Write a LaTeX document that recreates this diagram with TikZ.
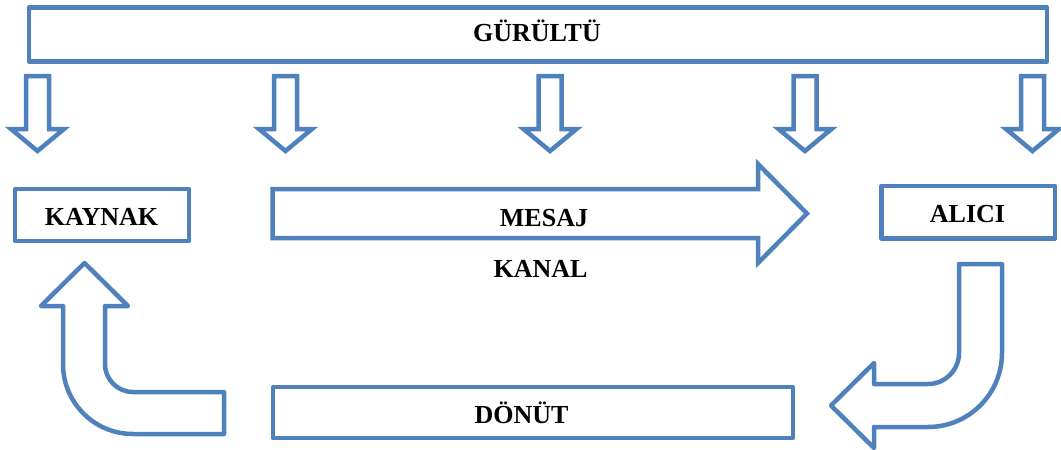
\documentclass[tikz,border=0pt]{standalone}
\usepackage{fontspec}
\setmainfont{Liberation Serif}
\definecolor{boxblue}{RGB}{79,129,189}
\tikzset{
  frame/.style={draw=boxblue, line width=4.5pt, line join=round, fill=white},
  blockarrow/.style={draw=boxblue, line width=4.5pt, line join=miter, miter limit=10, fill=white},
  boxrect/.style={frame, rectangle, inner sep=0pt, outer sep=0pt},
  label/.style={font=\fontsize{26}{30}\selectfont\bfseries, text=black, inner sep=0pt, anchor=base},
}
\begin{document}
\begin{tikzpicture}[x=1pt, y=-1pt]
\useasboundingbox (0,0) rectangle (1061,450);

% boxes
\node[boxrect, minimum width=1018pt, minimum height=54pt] (noise) at (538,34.5) {};
\node[boxrect, minimum width=174pt, minimum height=52pt] (source) at (102,215) {};
\node[boxrect, minimum width=173.5pt, minimum height=52.5pt] (receiver) at (968.25,212.25) {};
\node[boxrect, minimum width=520pt, minimum height=51pt] (feedback) at (533,412.5) {};

% downward arrows from the noise bar
\foreach \cx in {37.5,285.5,550,805,1032.5}{
  \draw[blockarrow] (\cx-11.5,76) -- (\cx+11.5,76) -- (\cx+11.5,129) -- (\cx+26.5,129)
    -- (\cx,151) -- (\cx-26.5,129) -- (\cx-11.5,129) -- cycle;
}

% message arrow
\draw[blockarrow] (272.5,189) -- (758,189) -- (758,164) -- (807,213.5) -- (758,263)
  -- (758,238) -- (272.5,238) -- cycle;

% bent arrow from the receiver down into the feedback line
\draw[blockarrow, line join=round] (959,264) -- (1002,264) -- (1002,353)
  .. controls (1002,393.9) and (968.9,427) .. (928,427) -- (874,427) -- (874,448)
  -- (831,405.5) -- (874,363) -- (874,384) -- (928,384)
  .. controls (945.1,384) and (959,370.1) .. (959,353) -- cycle;

% bent arrow from the feedback line back up to the source
\draw[blockarrow, line join=round] (84.5,263) -- (128,306) -- (105,306) -- (105,364)
  .. controls (105,379.5) and (117.5,392) .. (133,392) -- (224,392) -- (224,434)
  -- (133,434) .. controls (94.3,434) and (63,402.7) .. (63,364) -- (63,306)
  -- (41,306) -- cycle;

% texts
\node[label] (tnoise) at (537,41.7) {GÜRÜLTÜ};
\node[label] (tsource) at (101.5,225) {KAYNAK};
\node[label] (tmessage) at (544,226.7) {MESAJ};
\node[label] (tchannel) at (540.5,277.7) {KANAL};
\node[label] (treceiver) at (967.5,222) {ALICI};
\node[label] (tfeedback) at (521.5,423.3) {DÖNÜT};
\end{tikzpicture}
\end{document}
